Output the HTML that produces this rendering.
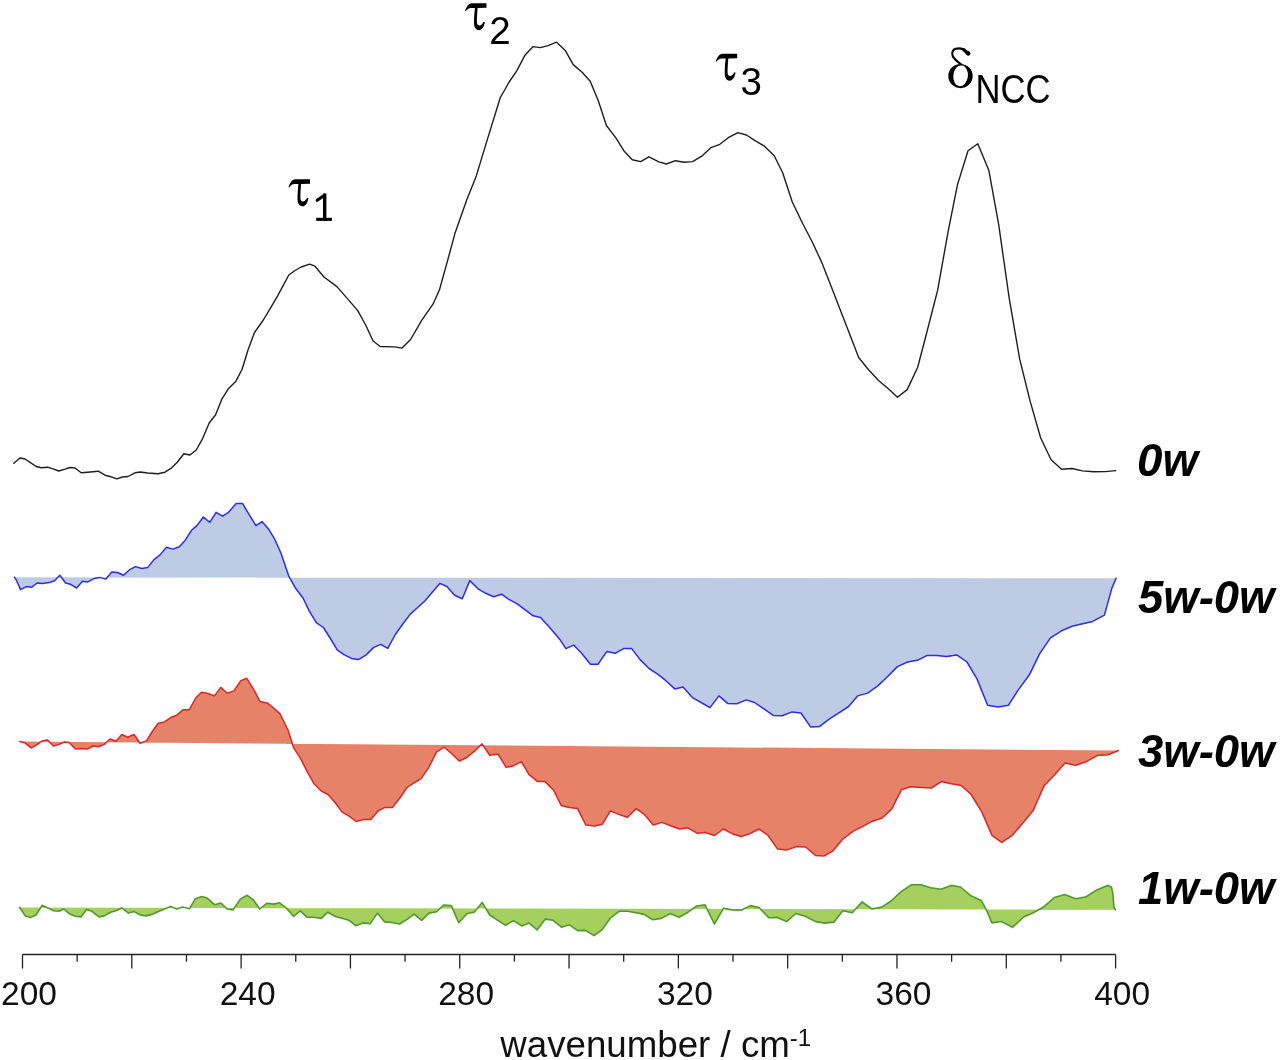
<!DOCTYPE html>
<html><head><meta charset="utf-8"><style>
html,body{margin:0;padding:0;background:#fff;width:1280px;height:1060px;overflow:hidden}
svg{display:block}
svg{will-change:transform}
</style></head><body>
<svg width="1280" height="1060" viewBox="0 0 1280 1060">
<rect width="1280" height="1060" fill="#fff"/>
<g stroke-linejoin="round" stroke-linecap="round">
<polygon points="14.5,577.2 16.4,580.2 20.6,589.6 26.2,586.6 31.6,587.3 37.0,583.0 42.2,583.5 49.2,582.6 54.6,580.7 59.8,575.3 65.6,583.0 70.3,584.2 76.6,588.0 82.5,581.2 87.9,581.9 94.4,578.4 99.6,577.4 105.9,579.1 111.8,572.0 117.6,572.5 123.5,575.3 129.6,569.7 135.5,566.6 141.8,568.5 147.6,567.6 154.0,559.6 160.1,554.9 166.4,547.2 173.0,549.1 179.3,546.7 185.1,540.4 191.5,530.3 196.9,525.6 203.4,517.0 209.8,522.3 216.1,512.3 222.6,516.2 228.5,512.3 236.2,503.6 242.6,503.6 248.4,513.4 255.9,525.6 262.0,521.6 268.3,528.7 274.7,539.2 280.8,552.8 288.9,576.4 295.2,587.7 303.0,598.0 309.3,611.1 316.3,622.6 323.4,627.5 330.4,638.5 337.4,650.2 344.4,654.9 351.5,658.4 358.5,659.6 366.2,654.9 373.7,647.4 380.8,644.4 387.8,648.4 395.3,634.5 403.0,623.7 410.1,614.4 417.1,608.0 424.8,601.0 432.3,592.3 439.8,583.4 446.9,586.5 454.6,595.2 462.3,598.7 469.8,580.6 478.0,588.8 485.8,593.3 493.7,596.8 501.5,594.2 508.5,599.1 517.2,603.8 524.9,609.7 533.1,615.8 540.6,617.4 549.0,626.8 557.2,636.2 560.0,639.7 565.9,648.6 573.6,645.1 581.6,653.3 590.5,664.3 598.0,664.3 606.9,651.4 615.1,653.3 623.7,648.6 631.5,648.4 640.1,659.6 649.1,668.5 658.0,674.4 665.9,680.7 674.8,688.9 683.0,687.0 692.4,697.6 701.1,702.5 710.0,707.6 718.9,695.9 727.6,703.4 736.9,703.7 746.3,699.9 754.5,702.5 763.9,708.8 773.3,715.4 782.2,715.8 792.0,711.9 800.9,713.0 810.8,727.1 819.7,726.4 829.5,718.9 838.9,712.8 848.6,706.5 857.6,695.9 867.7,693.1 877.5,686.1 886.9,677.2 897.4,666.6 907.5,662.0 917.3,660.3 927.2,655.4 936.6,655.4 946.6,656.6 956.7,654.9 967.0,662.0 977.1,679.1 987.6,705.3 998.2,706.9 1008.3,705.3 1018.1,690.1 1029.4,674.8 1039.7,653.7 1050.5,637.8 1061.5,630.8 1072.0,626.3 1082.6,623.7 1092.6,621.4 1104.4,615.1 1111.9,588.1 1116.1,578.3" fill="#bdcce4" stroke="none"/>
<polyline points="14.5,577.2 16.4,580.2 20.6,589.6 26.2,586.6 31.6,587.3 37.0,583.0 42.2,583.5 49.2,582.6 54.6,580.7 59.8,575.3 65.6,583.0 70.3,584.2 76.6,588.0 82.5,581.2 87.9,581.9 94.4,578.4 99.6,577.4 105.9,579.1 111.8,572.0 117.6,572.5 123.5,575.3 129.6,569.7 135.5,566.6 141.8,568.5 147.6,567.6 154.0,559.6 160.1,554.9 166.4,547.2 173.0,549.1 179.3,546.7 185.1,540.4 191.5,530.3 196.9,525.6 203.4,517.0 209.8,522.3 216.1,512.3 222.6,516.2 228.5,512.3 236.2,503.6 242.6,503.6 248.4,513.4 255.9,525.6 262.0,521.6 268.3,528.7 274.7,539.2 280.8,552.8 288.9,576.4 295.2,587.7 303.0,598.0 309.3,611.1 316.3,622.6 323.4,627.5 330.4,638.5 337.4,650.2 344.4,654.9 351.5,658.4 358.5,659.6 366.2,654.9 373.7,647.4 380.8,644.4 387.8,648.4 395.3,634.5 403.0,623.7 410.1,614.4 417.1,608.0 424.8,601.0 432.3,592.3 439.8,583.4 446.9,586.5 454.6,595.2 462.3,598.7 469.8,580.6 478.0,588.8 485.8,593.3 493.7,596.8 501.5,594.2 508.5,599.1 517.2,603.8 524.9,609.7 533.1,615.8 540.6,617.4 549.0,626.8 557.2,636.2 560.0,639.7 565.9,648.6 573.6,645.1 581.6,653.3 590.5,664.3 598.0,664.3 606.9,651.4 615.1,653.3 623.7,648.6 631.5,648.4 640.1,659.6 649.1,668.5 658.0,674.4 665.9,680.7 674.8,688.9 683.0,687.0 692.4,697.6 701.1,702.5 710.0,707.6 718.9,695.9 727.6,703.4 736.9,703.7 746.3,699.9 754.5,702.5 763.9,708.8 773.3,715.4 782.2,715.8 792.0,711.9 800.9,713.0 810.8,727.1 819.7,726.4 829.5,718.9 838.9,712.8 848.6,706.5 857.6,695.9 867.7,693.1 877.5,686.1 886.9,677.2 897.4,666.6 907.5,662.0 917.3,660.3 927.2,655.4 936.6,655.4 946.6,656.6 956.7,654.9 967.0,662.0 977.1,679.1 987.6,705.3 998.2,706.9 1008.3,705.3 1018.1,690.1 1029.4,674.8 1039.7,653.7 1050.5,637.8 1061.5,630.8 1072.0,626.3 1082.6,623.7 1092.6,621.4 1104.4,615.1 1111.9,588.1 1116.1,578.3" fill="none" stroke="#2b2bf5" stroke-width="1.5"/>
<polygon points="19.9,741.6 24.6,742.7 31.2,747.9 36.3,745.1 42.2,740.9 47.3,739.9 53.4,746.0 58.6,744.6 64.4,742.0 69.1,742.5 75.5,749.1 81.6,748.4 87.2,749.1 93.0,746.0 98.4,746.7 104.3,744.4 110.1,739.0 116.0,741.3 121.9,734.5 127.7,737.3 134.0,734.5 140.1,743.2 146.5,740.9 152.3,731.5 158.2,723.3 163.6,722.3 172.3,716.7 176.2,715.5 183.3,709.7 189.4,709.7 195.7,698.0 201.5,692.3 208.1,693.5 214.4,695.9 220.8,687.4 227.3,693.3 233.9,690.9 240.9,680.6 246.8,678.3 253.6,689.3 260.1,701.5 267.2,702.9 273.7,708.0 280.1,713.9 284.7,723.5 288.2,730.5 293.6,747.7 300.6,758.7 307.7,772.7 314.0,783.7 321.0,790.8 328.0,794.5 335.1,802.5 342.1,812.1 349.1,816.1 356.2,821.5 363.2,819.6 370.7,819.6 378.0,810.9 385.0,807.4 392.5,807.4 399.5,798.5 407.0,787.5 414.0,782.8 421.1,778.6 428.8,767.3 436.5,752.1 444.0,747.0 451.5,753.5 459.3,761.0 466.8,757.5 474.5,751.2 482.0,743.9 489.8,755.2 498.0,754.0 506.2,767.3 513.7,765.7 521.4,761.7 528.9,774.4 537.3,781.4 544.8,781.4 553.7,790.3 561.2,805.5 569.4,807.5 577.6,808.6 585.8,825.0 594.7,825.9 602.2,824.3 610.4,810.9 618.6,814.4 627.5,817.3 636.2,808.6 644.4,814.4 653.3,825.0 661.9,822.4 670.1,825.5 679.5,829.0 687.7,827.8 697.1,833.2 705.3,832.5 714.7,835.5 723.3,829.0 732.3,833.7 740.9,836.5 749.8,833.7 759.2,829.0 768.1,835.5 777.5,848.9 786.2,850.1 796.7,846.6 805.6,847.0 815.5,855.5 824.4,855.9 833.0,850.8 842.4,839.5 852.9,831.3 862.3,826.6 872.3,821.2 882.2,818.0 891.6,809.1 901.4,789.8 910.3,786.8 921.6,787.5 931.4,788.0 941.2,781.6 951.3,783.7 961.4,785.6 971.2,794.5 981.8,811.9 991.9,835.3 1001.7,842.3 1012.3,835.3 1022.8,823.1 1033.3,810.2 1043.9,786.1 1054.4,775.1 1065.0,762.9 1075.5,765.2 1086.1,761.7 1097.3,755.6 1108.3,754.7 1118.4,750.5" fill="#e58267" stroke="none"/>
<polyline points="19.9,741.6 24.6,742.7 31.2,747.9 36.3,745.1 42.2,740.9 47.3,739.9 53.4,746.0 58.6,744.6 64.4,742.0 69.1,742.5 75.5,749.1 81.6,748.4 87.2,749.1 93.0,746.0 98.4,746.7 104.3,744.4 110.1,739.0 116.0,741.3 121.9,734.5 127.7,737.3 134.0,734.5 140.1,743.2 146.5,740.9 152.3,731.5 158.2,723.3 163.6,722.3 172.3,716.7 176.2,715.5 183.3,709.7 189.4,709.7 195.7,698.0 201.5,692.3 208.1,693.5 214.4,695.9 220.8,687.4 227.3,693.3 233.9,690.9 240.9,680.6 246.8,678.3 253.6,689.3 260.1,701.5 267.2,702.9 273.7,708.0 280.1,713.9 284.7,723.5 288.2,730.5 293.6,747.7 300.6,758.7 307.7,772.7 314.0,783.7 321.0,790.8 328.0,794.5 335.1,802.5 342.1,812.1 349.1,816.1 356.2,821.5 363.2,819.6 370.7,819.6 378.0,810.9 385.0,807.4 392.5,807.4 399.5,798.5 407.0,787.5 414.0,782.8 421.1,778.6 428.8,767.3 436.5,752.1 444.0,747.0 451.5,753.5 459.3,761.0 466.8,757.5 474.5,751.2 482.0,743.9 489.8,755.2 498.0,754.0 506.2,767.3 513.7,765.7 521.4,761.7 528.9,774.4 537.3,781.4 544.8,781.4 553.7,790.3 561.2,805.5 569.4,807.5 577.6,808.6 585.8,825.0 594.7,825.9 602.2,824.3 610.4,810.9 618.6,814.4 627.5,817.3 636.2,808.6 644.4,814.4 653.3,825.0 661.9,822.4 670.1,825.5 679.5,829.0 687.7,827.8 697.1,833.2 705.3,832.5 714.7,835.5 723.3,829.0 732.3,833.7 740.9,836.5 749.8,833.7 759.2,829.0 768.1,835.5 777.5,848.9 786.2,850.1 796.7,846.6 805.6,847.0 815.5,855.5 824.4,855.9 833.0,850.8 842.4,839.5 852.9,831.3 862.3,826.6 872.3,821.2 882.2,818.0 891.6,809.1 901.4,789.8 910.3,786.8 921.6,787.5 931.4,788.0 941.2,781.6 951.3,783.7 961.4,785.6 971.2,794.5 981.8,811.9 991.9,835.3 1001.7,842.3 1012.3,835.3 1022.8,823.1 1033.3,810.2 1043.9,786.1 1054.4,775.1 1065.0,762.9 1075.5,765.2 1086.1,761.7 1097.3,755.6 1108.3,754.7 1118.4,750.5" fill="none" stroke="#de2424" stroke-width="1.5"/>
<polygon points="19.7,907.5 25.3,915.9 30.9,917.4 36.0,915.0 42.2,905.3 47.8,907.9 53.4,910.7 59.1,911.3 63.8,909.0 69.8,914.1 75.4,916.3 81.0,916.9 86.6,909.4 91.9,911.3 99.0,916.9 104.1,915.9 110.6,912.2 115.9,910.7 121.9,907.9 128.4,913.1 134.1,911.6 140.3,915.0 145.9,915.9 151.9,914.4 158.4,911.6 164.6,909.0 170.6,906.6 176.6,909.0 182.8,907.1 189.4,908.8 195.4,898.7 201.6,896.6 207.2,898.1 214.7,904.7 220.9,903.0 227.1,909.0 233.1,909.9 240.3,899.1 247.2,895.3 253.4,900.0 259.8,909.0 266.9,903.2 273.4,904.1 279.6,902.8 286.6,908.4 293.5,916.3 300.3,910.9 307.2,917.3 313.8,917.3 321.3,918.4 327.8,912.2 335.3,916.5 341.9,918.2 349.0,920.3 355.9,925.7 362.9,922.9 370.0,923.8 377.5,913.1 384.6,921.9 391.6,922.5 399.6,924.0 407.5,919.1 414.1,914.1 421.6,920.3 429.1,913.1 436.6,911.8 443.5,905.1 451.3,905.6 458.7,922.7 467.2,913.5 474.1,912.2 482.2,902.4 489.7,915.0 497.8,920.3 505.6,925.3 513.5,920.6 521.6,925.9 529.1,923.1 537.1,930.0 545.4,919.1 553.1,920.3 561.5,927.2 569.4,924.8 577.8,930.6 585.3,930.4 594.1,935.6 602.2,929.6 610.6,917.8 619.1,911.3 627.5,911.3 636.0,912.8 644.0,914.4 652.8,919.7 661.3,918.4 670.3,913.5 679.1,917.3 688.1,912.2 696.6,906.0 705.0,904.9 714.4,924.0 723.4,908.4 732.2,909.9 741.0,910.3 750.4,905.6 759.0,907.5 768.8,917.8 777.2,917.4 786.6,921.6 795.9,913.5 805.3,916.3 815.6,921.6 824.6,923.1 834.0,922.1 842.8,910.7 852.2,912.8 862.1,901.9 871.9,909.0 881.6,907.1 891.2,901.0 901.1,891.6 911.3,884.8 921.0,884.8 930.8,887.7 940.9,889.3 951.3,885.4 960.5,887.0 971.4,896.1 981.2,900.4 986.4,909.8 991.9,922.9 1001.5,921.5 1012.4,927.4 1023.6,917.0 1033.3,912.7 1043.1,907.3 1054.4,897.5 1064.6,894.6 1075.7,898.7 1086.1,896.7 1096.8,889.9 1107.5,885.4 1111.4,887.0 1112.8,893.2 1114.0,907.3 1115.4,909.8" fill="#a5d05d" stroke="none"/>
<polyline points="19.7,907.5 25.3,915.9 30.9,917.4 36.0,915.0 42.2,905.3 47.8,907.9 53.4,910.7 59.1,911.3 63.8,909.0 69.8,914.1 75.4,916.3 81.0,916.9 86.6,909.4 91.9,911.3 99.0,916.9 104.1,915.9 110.6,912.2 115.9,910.7 121.9,907.9 128.4,913.1 134.1,911.6 140.3,915.0 145.9,915.9 151.9,914.4 158.4,911.6 164.6,909.0 170.6,906.6 176.6,909.0 182.8,907.1 189.4,908.8 195.4,898.7 201.6,896.6 207.2,898.1 214.7,904.7 220.9,903.0 227.1,909.0 233.1,909.9 240.3,899.1 247.2,895.3 253.4,900.0 259.8,909.0 266.9,903.2 273.4,904.1 279.6,902.8 286.6,908.4 293.5,916.3 300.3,910.9 307.2,917.3 313.8,917.3 321.3,918.4 327.8,912.2 335.3,916.5 341.9,918.2 349.0,920.3 355.9,925.7 362.9,922.9 370.0,923.8 377.5,913.1 384.6,921.9 391.6,922.5 399.6,924.0 407.5,919.1 414.1,914.1 421.6,920.3 429.1,913.1 436.6,911.8 443.5,905.1 451.3,905.6 458.7,922.7 467.2,913.5 474.1,912.2 482.2,902.4 489.7,915.0 497.8,920.3 505.6,925.3 513.5,920.6 521.6,925.9 529.1,923.1 537.1,930.0 545.4,919.1 553.1,920.3 561.5,927.2 569.4,924.8 577.8,930.6 585.3,930.4 594.1,935.6 602.2,929.6 610.6,917.8 619.1,911.3 627.5,911.3 636.0,912.8 644.0,914.4 652.8,919.7 661.3,918.4 670.3,913.5 679.1,917.3 688.1,912.2 696.6,906.0 705.0,904.9 714.4,924.0 723.4,908.4 732.2,909.9 741.0,910.3 750.4,905.6 759.0,907.5 768.8,917.8 777.2,917.4 786.6,921.6 795.9,913.5 805.3,916.3 815.6,921.6 824.6,923.1 834.0,922.1 842.8,910.7 852.2,912.8 862.1,901.9 871.9,909.0 881.6,907.1 891.2,901.0 901.1,891.6 911.3,884.8 921.0,884.8 930.8,887.7 940.9,889.3 951.3,885.4 960.5,887.0 971.4,896.1 981.2,900.4 986.4,909.8 991.9,922.9 1001.5,921.5 1012.4,927.4 1023.6,917.0 1033.3,912.7 1043.1,907.3 1054.4,897.5 1064.6,894.6 1075.7,898.7 1086.1,896.7 1096.8,889.9 1107.5,885.4 1111.4,887.0 1112.8,893.2 1114.0,907.3 1115.4,909.8" fill="none" stroke="#4e9a2c" stroke-width="1.6"/>
<polyline points="13.8,463.2 20.0,458.0 25.0,459.0 31.2,463.2 36.2,466.5 41.2,467.8 47.5,467.2 53.8,469.2 58.8,471.0 65.0,469.2 70.0,467.5 75.0,468.0 81.2,472.8 87.5,472.2 98.2,471.2 105.0,475.2 111.2,476.8 116.8,478.8 122.5,477.0 128.0,476.5 135.0,472.8 140.5,472.0 147.5,473.0 158.0,473.8 165.0,472.2 171.2,468.2 177.5,462.0 183.8,453.8 190.0,455.0 196.2,450.0 202.5,438.8 209.2,423.0 215.5,415.0 222.0,398.8 228.8,388.2 235.5,381.8 242.0,369.5 248.0,350.0 254.5,332.5 263.0,320.5 270.0,308.8 277.5,296.2 288.8,275.0 295.0,270.5 301.2,267.0 309.5,264.2 315.0,266.2 324.0,277.0 336.9,286.6 348.1,299.4 357.7,310.6 365.7,325.0 373.1,341.0 380.2,346.5 394.6,346.9 402.0,348.1 410.6,339.5 421.8,320.2 433.0,304.2 439.5,289.8 447.5,260.9 454.9,233.6 466.7,200.0 476.3,175.9 486.0,143.9 500.4,97.3 504.7,90.0 508.8,82.5 516.9,70.6 524.7,55.6 533.1,46.6 540.5,47.6 548.1,45.6 556.6,42.2 565.5,50.8 573.2,64.6 582.1,72.3 590.2,81.3 598.2,100.5 606.4,125.5 615.7,137.7 623.8,150.7 632.3,159.8 640.7,161.6 648.9,156.8 658.8,161.9 666.4,164.0 675.4,160.7 684.2,162.2 692.6,161.6 701.7,156.2 710.8,147.7 719.2,144.7 728.3,137.7 737.9,132.6 746.4,135.0 755.4,140.8 764.5,146.2 774.2,155.8 782.6,172.5 792.3,202.0 802.8,223.8 811.9,241.3 821.8,262.4 831.5,287.2 840.6,310.7 849.6,334.0 858.7,357.5 867.7,368.7 878.3,380.2 888.9,389.2 897.4,397.2 907.2,389.6 917.7,367.2 927.1,331.2 937.6,290.4 948.1,231.7 957.5,184.6 968.0,150.7 977.8,143.7 988.9,170.6 998.7,224.7 1009.2,298.1 1019.7,359.2 1030.1,401.1 1040.6,437.7 1051.1,459.7 1061.6,469.2 1072.0,468.5 1082.5,470.9 1093.7,471.8 1105.2,471.6 1115.7,470.6" fill="none" stroke="#1e1e1e" stroke-width="1.4"/>
</g>
<g stroke="#222" stroke-width="1.3" fill="none">
<line x1="22.5" y1="954.5" x2="1115.6" y2="954.5"/>
<line x1="22.50" y1="954.5" x2="22.50" y2="968.5"/><line x1="77.16" y1="954.5" x2="77.16" y2="961.7"/><line x1="131.81" y1="954.5" x2="131.81" y2="968.5"/><line x1="186.47" y1="954.5" x2="186.47" y2="961.7"/><line x1="241.12" y1="954.5" x2="241.12" y2="968.5"/><line x1="295.77" y1="954.5" x2="295.77" y2="961.7"/><line x1="350.43" y1="954.5" x2="350.43" y2="968.5"/><line x1="405.08" y1="954.5" x2="405.08" y2="961.7"/><line x1="459.74" y1="954.5" x2="459.74" y2="968.5"/><line x1="514.39" y1="954.5" x2="514.39" y2="961.7"/><line x1="569.05" y1="954.5" x2="569.05" y2="968.5"/><line x1="623.70" y1="954.5" x2="623.70" y2="961.7"/><line x1="678.36" y1="954.5" x2="678.36" y2="968.5"/><line x1="733.01" y1="954.5" x2="733.01" y2="961.7"/><line x1="787.67" y1="954.5" x2="787.67" y2="968.5"/><line x1="842.33" y1="954.5" x2="842.33" y2="961.7"/><line x1="896.98" y1="954.5" x2="896.98" y2="968.5"/><line x1="951.63" y1="954.5" x2="951.63" y2="961.7"/><line x1="1006.29" y1="954.5" x2="1006.29" y2="968.5"/><line x1="1060.94" y1="954.5" x2="1060.94" y2="961.7"/><line x1="1115.60" y1="954.5" x2="1115.60" y2="968.5"/>
</g>
<g font-family="'Liberation Sans', sans-serif" font-size="33.5" fill="#111">
<text x="29.0" y="1005" text-anchor="middle">200</text><text x="247.6" y="1005" text-anchor="middle">240</text><text x="466.2" y="1005" text-anchor="middle">280</text><text x="684.9" y="1005" text-anchor="middle">320</text><text x="903.5" y="1005" text-anchor="middle">360</text><text x="1122.1" y="1005" text-anchor="middle">400</text>
<text x="500.3" y="1057" font-size="36.7">wavenumber / cm<tspan font-size="24" dy="-11">-1</tspan></text>
</g>
<g fill="#000">
<path transform="translate(288.5,179.1)" d="M21.5 0.2 L21.5 4.7 L12.6 5.0 C12.2 10 11.8 15 11.9 19.5 C12.2 22 13.5 22.6 14.8 22.4 C16.5 22 17.6 20.5 18.7 18.7 L19.9 19.3 C19.2 22.5 17.5 27.2 14.0 27.2 C10.2 27.2 9.0 23.5 9.0 19.5 C9.0 14 9.5 9 9.9 5.0 L6.0 5.0 C3.5 5.0 2.2 6.5 0.6 8.3 L0 7.8 C1.5 4.5 3.0 0.2 7.0 0.2 Z"/>
<path transform="translate(465,3)" d="M21.5 0.2 L21.5 4.7 L12.6 5.0 C12.2 10 11.8 15 11.9 19.5 C12.2 22 13.5 22.6 14.8 22.4 C16.5 22 17.6 20.5 18.7 18.7 L19.9 19.3 C19.2 22.5 17.5 27.2 14.0 27.2 C10.2 27.2 9.0 23.5 9.0 19.5 C9.0 14 9.5 9 9.9 5.0 L6.0 5.0 C3.5 5.0 2.2 6.5 0.6 8.3 L0 7.8 C1.5 4.5 3.0 0.2 7.0 0.2 Z"/>
<path transform="translate(715.7,53.5)" d="M21.5 0.2 L21.5 4.7 L12.6 5.0 C12.2 10 11.8 15 11.9 19.5 C12.2 22 13.5 22.6 14.8 22.4 C16.5 22 17.6 20.5 18.7 18.7 L19.9 19.3 C19.2 22.5 17.5 27.2 14.0 27.2 C10.2 27.2 9.0 23.5 9.0 19.5 C9.0 14 9.5 9 9.9 5.0 L6.0 5.0 C3.5 5.0 2.2 6.5 0.6 8.3 L0 7.8 C1.5 4.5 3.0 0.2 7.0 0.2 Z"/>
<rect x="323" y="193.5" width="3.4" height="27.2"/>
<rect x="316.2" y="217.8" width="15.7" height="3.1"/>
<line x1="317.2" y1="200.3" x2="324.5" y2="195.2" stroke="#000" stroke-width="3.2" stroke-linecap="round"/>
</g>
<g font-family="'Liberation Sans', sans-serif" fill="#000">
<text x="489.2" y="43.75" font-size="38.5">2</text>
<text x="740.5" y="94.8" font-size="38.5">3</text>
<ellipse cx="960.5" cy="76.1" rx="12.2" ry="12.05" fill="#000"/>
<ellipse cx="0" cy="0" rx="7.3" ry="10.6" fill="#fff" transform="translate(960.6,75.8) rotate(6)"/>
<path d="M961.8 64.8 C957 61.5 952 58 952.2 53.5 C952.4 49.5 956 48.4 958.5 48.4 C962 48.2 964.5 49.5 967 52.5" fill="none" stroke="#000" stroke-width="2.1"/>
<path d="M963.8 49.6 L967.6 53.4" stroke="#000" stroke-width="3.2" stroke-linecap="round"/>
<ellipse cx="0" cy="0" rx="2.5" ry="2.2" fill="#000" transform="translate(968.1,53.2) rotate(40)"/>
<text x="975.5" y="102.9" font-size="40" textLength="75" lengthAdjust="spacingAndGlyphs">NCC</text>
</g>
<g font-family="'Liberation Sans', sans-serif" font-weight="bold" font-style="italic" font-size="46.5" fill="#000">
<text x="1137" y="476" textLength="61" lengthAdjust="spacingAndGlyphs">0w</text>
<text x="1138" y="613" textLength="136.5" lengthAdjust="spacingAndGlyphs">5w-0w</text>
<text x="1138" y="767" textLength="136.5" lengthAdjust="spacingAndGlyphs">3w-0w</text>
<text x="1138" y="904" textLength="136.5" lengthAdjust="spacingAndGlyphs">1w-0w</text>
</g>
</svg>
</body></html>
